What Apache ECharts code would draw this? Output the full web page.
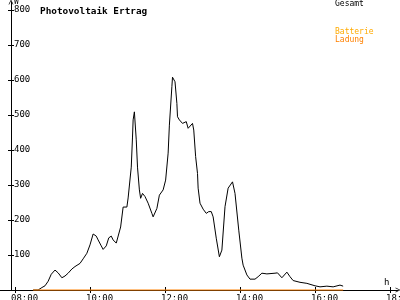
<!DOCTYPE html>
<html><head><meta charset="utf-8">
<script src="https://cdn.jsdelivr.net/npm/echarts@6/dist/echarts.min.js"></script>
<style>html,body{margin:0;padding:0;background:#fff}#c{width:400px;height:300px}</style>
</head><body><div id="c"></div>
<script>
// Data
var times = ['08:29','08:37','08:43','08:48','08:53','08:58','09:04','09:09','09:15','09:20','09:25','09:31','09:36','09:44','09:49','09:55','10:00','10:05','10:10','10:13','10:18','10:21','10:26','10:30','10:34','10:37','10:42','10:45','10:49','10:53','10:59','11:01','11:06','11:08','11:09','11:11','11:14','11:16','11:19','11:21','11:24','11:28','11:33','11:39','11:41','11:47','11:51','11:57','12:01','12:05','12:07','12:11','12:12','12:16','12:19','12:20','12:23','12:28','12:34','12:37','12:44','12:46','12:49','12:52','12:53','12:56','13:01','13:06','13:10','13:14','13:17','13:22','13:27','13:31','13:36','13:41','13:48','13:52','13:58','14:03','14:05','14:11','14:16','14:24','14:29','14:35','14:43','14:56','15:00','15:07','15:15','15:20','15:25','15:36','15:47','16:00','16:08','16:19','16:29','16:40','16:45'];
var gesamt = [0,0,7,12,25,45,57,49,35,40,48,60,67,76,89,105,129,160,154,143,126,116,126,149,154,143,134,137,180,237,237,263,351,437,486,509,429,351,286,262,276,267,248,219,209,233,271,286,314,391,471,581,608,595,533,495,486,476,481,462,476,457,381,333,291,248,231,219,224,224,209,148,95,114,238,291,309,276,171,91,71,43,31,31,38,48,46,48,49,35,51,38,27,22,19,12,9,11,9,14,11];
var batterieTimes = ['08:29','16:45'];
var batterie = [0,0];
var tickValues = ['08:00','10:00','12:00','14:00','16:00','18:00'];
var yTicks = [100,200,300,400,500,600,700,800];
var seriesNames = ['Gesamt','Batterie Ladung'];

function toMin(t){var p=t.split(':');return (+p[0])*60+(+p[1]);}
var tickMins = tickValues.map(toMin);
function fmtX(v){var i=tickMins.indexOf(v);return i<0?'':tickValues[i];}

var FONT = '"DejaVu Sans Mono", "Liberation Mono", monospace';
var chevron = 'path://M0,10 L5,0 L10,10 L8.6,10 L5,2.8 L1.4,10 Z';
// 1 px = 1.6 minutes on the x axis, 35 px per 100 W on the y axis
var xMin = 456, xMax = 1092.8;
var yMax = 822.857;

var chart = echarts.init(document.getElementById('c'), null, {renderer:'canvas'});
chart.setOption({
  animation:false,
  backgroundColor:'#ffffff',
  title:{text:'Photovoltaik Ertrag', left:35, top:2,
    textStyle:{fontFamily:FONT, fontWeight:'bold', fontSize:9.4, color:'#000'}},
  legend:{orient:'vertical', left:330, top:0, icon:'none', itemWidth:0, itemHeight:8, itemGap:20, padding:0,
    selectedMode:false,
    data:[{name:'Gesamt', textStyle:{color:'#000'}},{name:'Batterie Ladung'}],
    formatter:function(n){ if(n==='Gesamt') return n; var p=n.split(' '); return '{a|'+p[0]+'}\n{b|'+p[1]+'}'; },
    textStyle:{fontFamily:FONT, fontSize:8, color:'#000', padding:0, lineHeight:8,
      rich:{a:{color:'#ffaa00', fontFamily:FONT, fontSize:8, lineHeight:8}, b:{color:'#ff8000', fontFamily:FONT, fontSize:8, lineHeight:8}}}},
  grid:{left:0, right:2, top:2, bottom:10, containLabel:false, outerBoundsMode:'none'},
  xAxis:[
    {type:'value', min:xMin, max:xMax,
      name:'h', nameLocation:'end', nameGap:-14,
      nameTextStyle:{fontFamily:FONT, fontSize:9, color:'#000', verticalAlign:'bottom', align:'left', padding:[0,0,3,0]},
      axisLine:{show:true, onZero:false, lineStyle:{color:'#000', width:1}, symbol:['none', chevron], symbolSize:[7,5]},
      axisTick:{show:true, inside:false, length:3, lineStyle:{color:'#000'}, customValues:tickMins},
      axisLabel:{show:false}, splitLine:{show:false}},
    {type:'value', min:xMin, max:xMax, position:'bottom',
      axisLine:{show:false}, axisTick:{show:true, inside:true, length:3, lineStyle:{color:'#000'}, customValues:tickMins},
      axisLabel:{show:false}, splitLine:{show:false}},
    {type:'value', min:xMin+6.4, max:xMax+6.4, position:'bottom',
      axisLine:{show:false}, axisTick:{show:false},
      axisLabel:{show:true, customValues:tickMins, formatter:fmtX, align:'left', margin:4, hideOverlap:false,
        fontFamily:FONT, fontSize:9, color:'#000'}, splitLine:{show:false}}
  ],
  yAxis:[
    {type:'value', min:0, max:yMax, position:'left', offset:-11,
      name:'W', nameLocation:'end', nameGap:-12,
      nameTextStyle:{fontFamily:FONT, fontSize:8, color:'#000', align:'left', verticalAlign:'bottom', padding:[0,0,0,3]},
      axisLine:{show:true, onZero:false, lineStyle:{color:'#000', width:1}, symbol:['none', chevron], symbolSize:[7,5]},
      axisTick:{show:true, inside:false, length:3, lineStyle:{color:'#000'}, customValues:yTicks},
      axisLabel:{show:true, inside:true, margin:3, customValues:yTicks, fontFamily:FONT, fontSize:9, color:'#000'},
      splitLine:{show:false}},
    {type:'value', min:0, max:yMax, position:'left', offset:-11,
      axisLine:{show:false}, axisTick:{show:true, inside:true, length:3, lineStyle:{color:'#000'}, customValues:yTicks},
      axisLabel:{show:false}, splitLine:{show:false}}
  ],
  series:[
    {name:seriesNames[0], type:'line', xAxisIndex:0, yAxisIndex:0, showSymbol:false, clip:false,
      lineStyle:{color:'#000', width:1}, itemStyle:{color:'#000'},
      data:times.map(function(t,i){return [toMin(t), gesamt[i]];}), z:3},
    {name:seriesNames[1], type:'line', xAxisIndex:0, yAxisIndex:0, showSymbol:false, clip:false,
      lineStyle:{color:'#ff8000', width:1}, itemStyle:{color:'#ff8000'},
      data:batterieTimes.map(function(t,i){return [toMin(t), batterie[i]];}), z:4}
  ]
});
</script></body></html>
